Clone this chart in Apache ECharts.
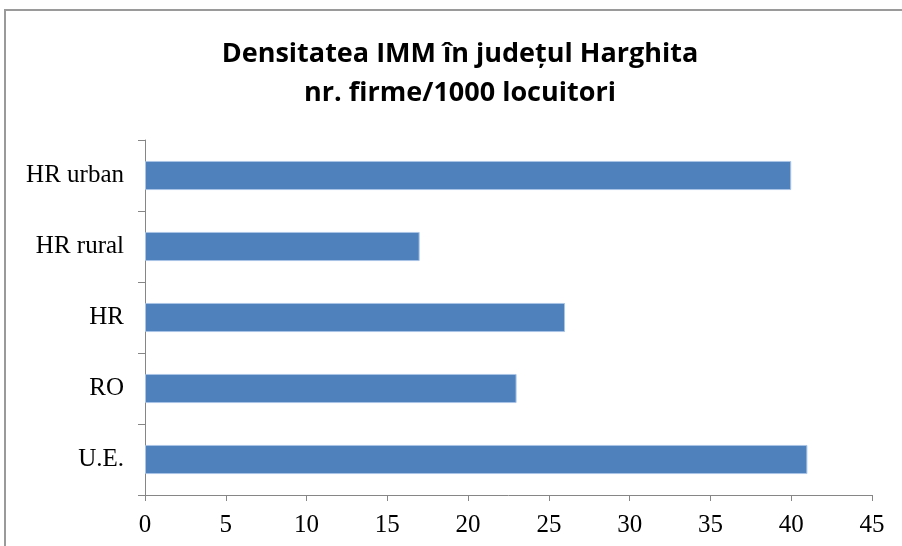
<!DOCTYPE html>
<html>
<head>
<meta charset="utf-8">
<script src="https://cdn.jsdelivr.net/npm/echarts@6/dist/echarts.min.js"></script>
<style>
  html, body { margin: 0; padding: 0; background: #fff; }
  #chart { width: 902px; height: 546px; }
</style>
</head>
<body>
<div id="chart"></div>
<script>
// categorii, de sus in jos
var categorii = ['HR urban', 'HR rural', 'HR', 'RO', 'U.E.'];
// nr. firme / 1000 locuitori
var valori = [40, 17, 26, 23, 41];
var tickX = [0, 5, 10, 15, 20, 25, 30, 35, 40, 45];

var myChart = echarts.init(document.getElementById('chart'));

var option = {
    backgroundColor: '#fff',
    animation: false,
    title: {
        text: 'Densitatea IMM în județul Harghita\nnr. firme/1000 locuitori',
        left: 455,
        top: 30,
        textAlign: 'center',
        textStyle: {
            fontFamily: 'Open Sans',
            fontWeight: 'bold',
            fontSize: 27,
            lineHeight: 39,
            color: '#000'
        }
    },
    // chenarul graficului
    graphic: [{
        type: 'rect',
        shape: { x: 5, y: 10, width: 1000, height: 1000 },
        style: { fill: 'none', stroke: '#9a9a9a', lineWidth: 2 },
        silent: true
    }],
    grid: {
        left: 145,
        right: 30,
        top: 140,
        bottom: 51
    },
    xAxis: {
        type: 'value',
        min: tickX[0],
        max: tickX[tickX.length - 1],
        interval: 5,
        splitLine: { show: false },
        axisLine: { show: true, lineStyle: { color: '#868686', width: 1 } },
        axisTick: { show: true, length: 6, lineStyle: { color: '#868686' } },
        axisLabel: {
            margin: 18,
            fontFamily: 'Liberation Serif',
            fontSize: 25,
            color: '#000'
        }
    },
    yAxis: {
        type: 'category',
        data: categorii,
        inverse: true,
        axisLine: { show: true, lineStyle: { color: '#868686', width: 1 } },
        axisTick: { show: true, length: 7, lineStyle: { color: '#868686' } },
        axisLabel: {
            margin: 21,
            fontFamily: 'Liberation Serif',
            fontSize: 25,
            color: '#000'
        }
    },
    series: [{
        type: 'bar',
        data: valori,
        barWidth: '41%',
        itemStyle: {
            color: '#4f81bd',
            borderColor: '#a9c4e6',
            borderWidth: 1
        }
    }]
};

myChart.setOption(option);
</script>
</body>
</html>
